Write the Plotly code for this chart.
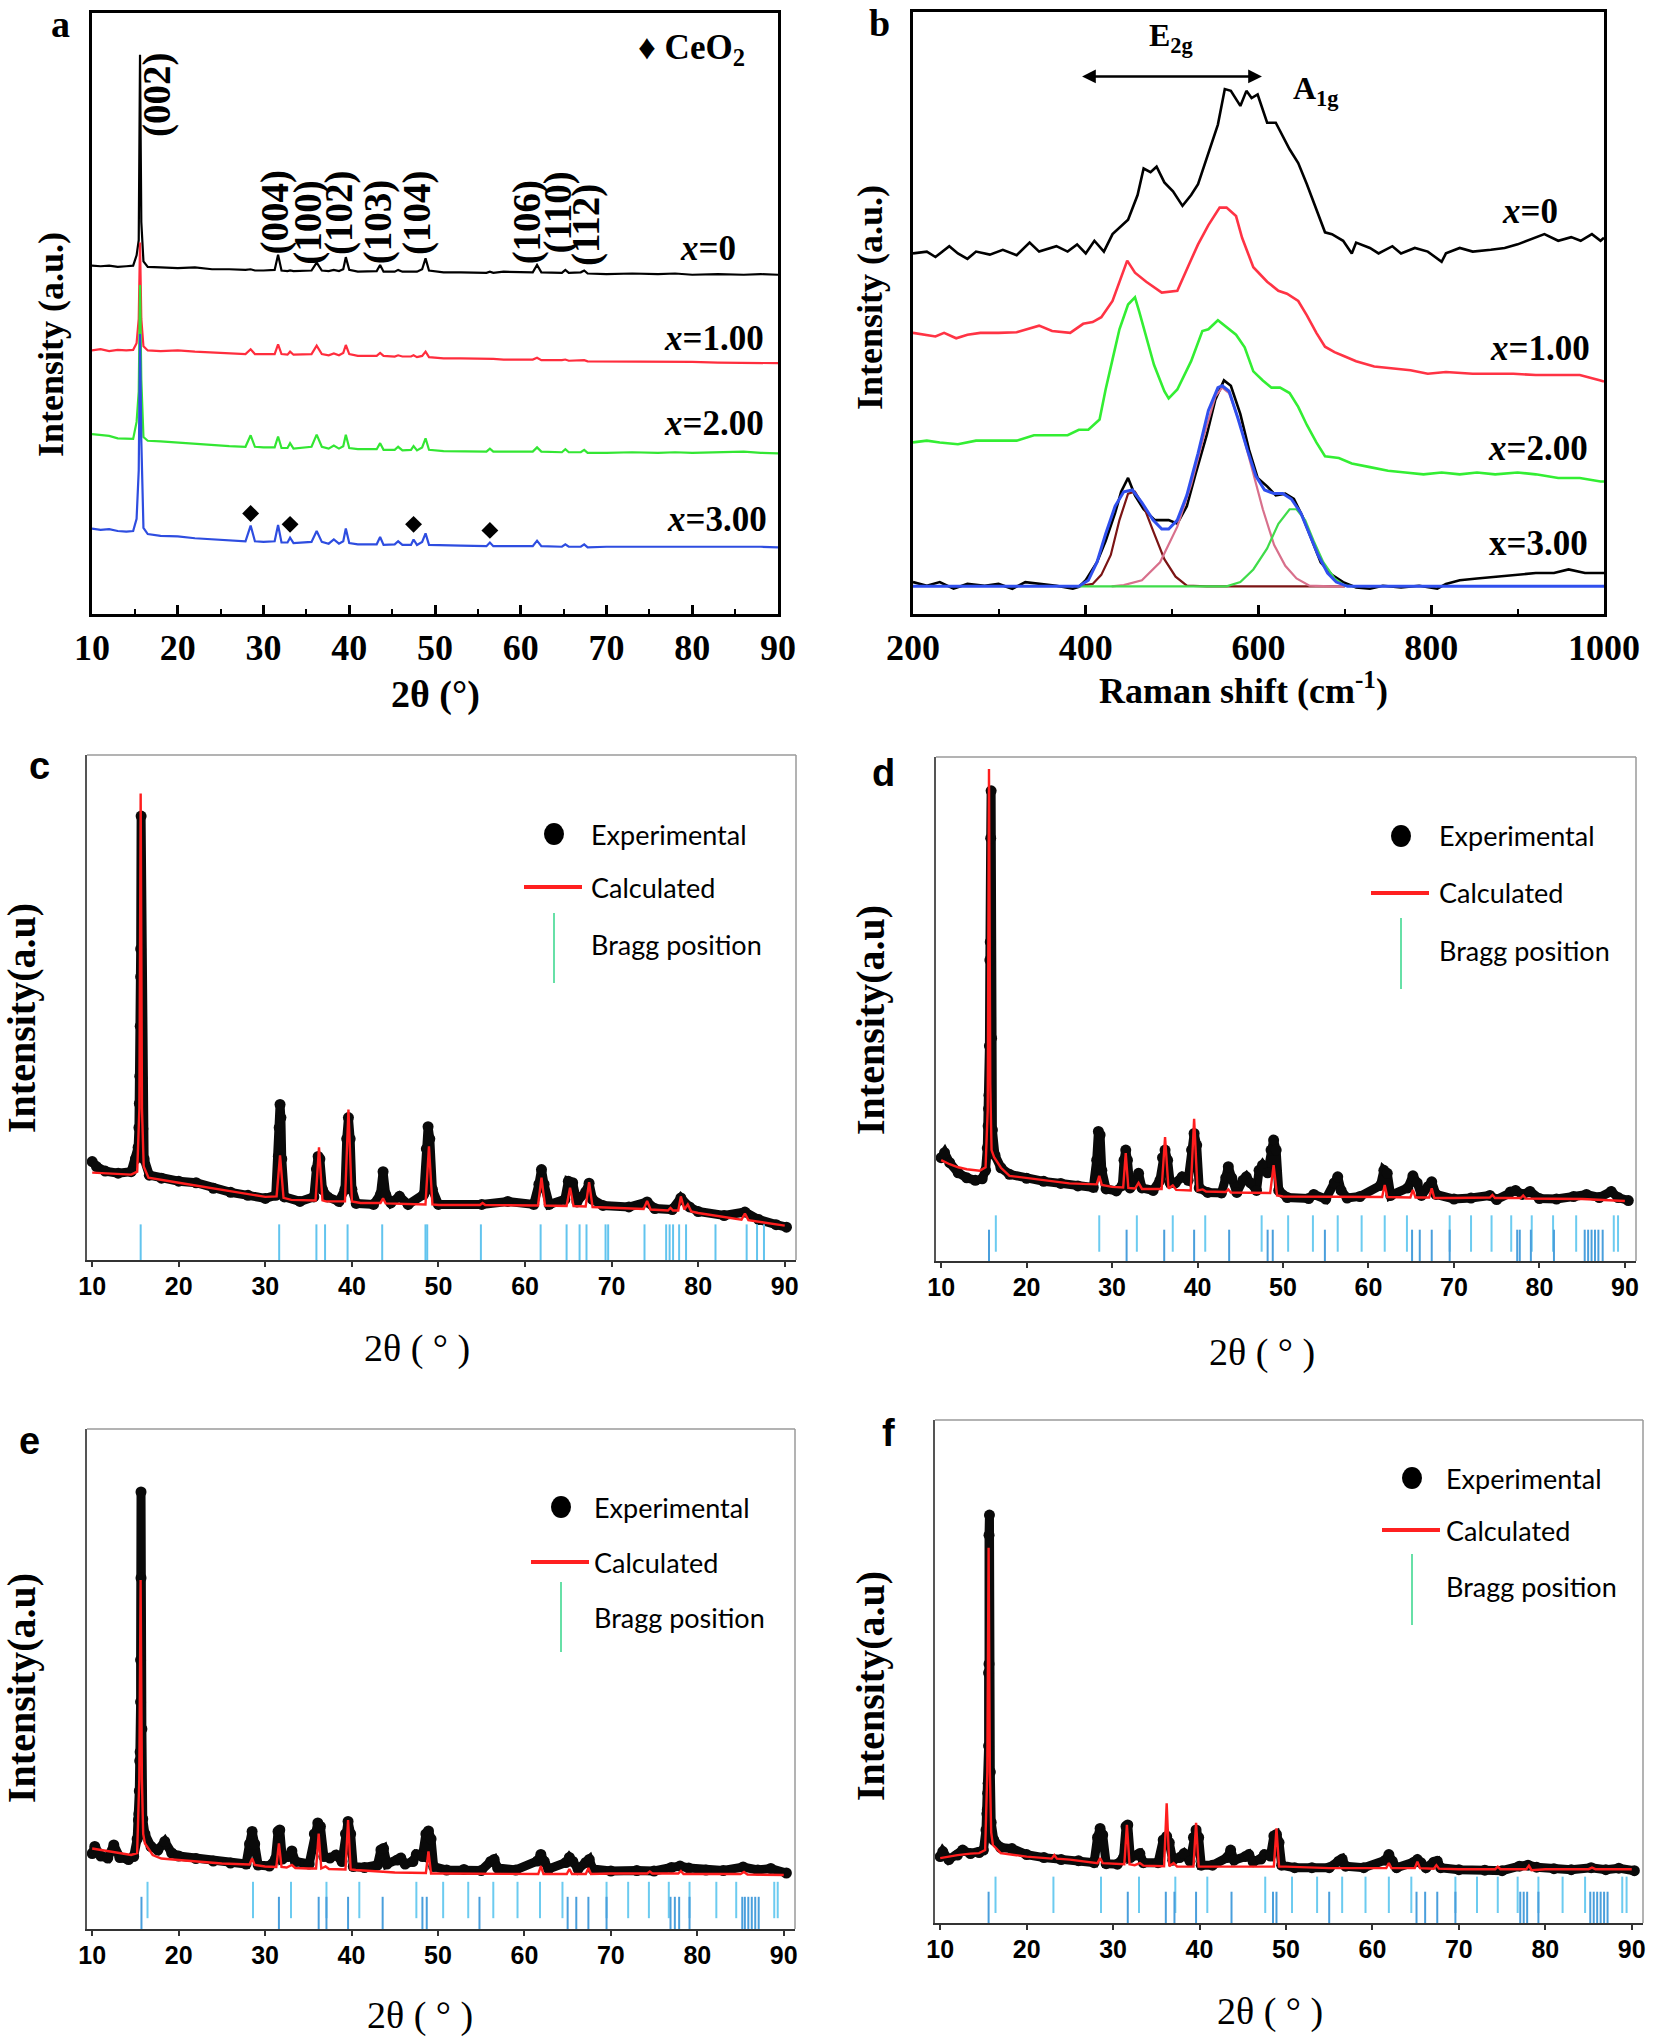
import plotly.graph_objects as go

W, H = 1654, 2043
SERIF = "Liberation Serif, Times New Roman, serif"
SANS = "Liberation Sans, Arial, sans-serif"
NARROW = "Liberation Sans Narrow, Arial Narrow, Lato, sans-serif"

# ---------------- (a) XRD, x = 0 ... 3.00 (arbitrary intensity units) ----------------
A_TT = [10, 11, 12, 13, 14, 14.8, 15.2, 15.45, 15.6, 15.75,
        16.0, 16.5, 18, 20, 22, 24, 26, 27.9, 28.5, 29.0,
        30, 31.3, 31.7, 32.1, 32.8, 33.1, 33.5, 35.6, 36.2, 36.8,
        37.6, 38.2, 38.8, 39.3, 39.6, 40.0, 41, 43.2, 43.6, 44.0,
        45.3, 45.7, 46.2, 47.2, 47.5, 47.9, 48.5, 48.9, 49.3, 51,
        53, 56.0, 56.4, 56.8, 58, 61.4, 61.9, 62.4, 64.8, 65.2,
        65.6, 67.0, 67.4, 67.8, 70, 73, 76, 78, 80, 83,
        86, 88, 90]
A_X0 = [58.8, 58.7, 58.8, 58.6, 58.7, 58.8, 60.5, 63.0, 93.6, 66.0,
        59.5, 58.6, 58.5, 58.4, 58.5, 58.2, 58.2, 58.1, 58.2, 58.0,
        58.0, 58.1, 60.6, 58.0, 57.9, 58.0, 57.9, 58.0, 59.3, 58.0,
        57.9, 58.1, 57.9, 58.2, 60.2, 58.1, 57.8, 57.9, 58.9, 57.8,
        57.8, 58.1, 57.8, 57.8, 57.9, 57.8, 58.2, 60.0, 58.0, 57.7,
        57.7, 57.6, 57.8, 57.6, 57.8, 57.7, 58.9, 57.7, 57.6, 58.1,
        57.6, 57.7, 58.0, 57.5, 57.4, 57.5, 57.4, 57.5, 57.3, 57.4,
        57.3, 57.4, 57.3]
A_X1 = [44.8, 45.0, 44.7, 44.9, 44.8, 44.9, 46.0, 50.0, 62.6, 50.0,
        45.5, 44.8, 44.7, 44.8, 44.6, 44.5, 44.3, 44.2, 45.0, 44.2,
        44.2, 44.2, 45.8, 44.2, 44.1, 44.6, 44.1, 44.2, 45.6, 44.2,
        44.0, 44.3, 44.0, 44.4, 45.7, 44.2, 43.9, 43.9, 44.4, 43.9,
        43.8, 44.0, 43.8, 43.8, 44.0, 43.7, 43.9, 44.6, 43.7, 43.5,
        43.5, 43.4, 43.5, 43.4, 43.3, 43.3, 43.6, 43.2, 43.2, 43.3,
        43.1, 43.1, 43.2, 43.0, 43.0, 43.0, 42.9, 42.9, 42.9, 42.8,
        42.8, 42.8, 42.7]
A_X2 = [31.0, 30.8, 30.7, 30.3, 30.3, 30.2, 33.0, 38.0, 55.6, 40.0,
        30.5, 29.9, 29.8, 29.6, 29.3, 29.1, 29.0, 28.9, 30.8, 28.9,
        28.8, 28.8, 30.6, 28.7, 28.7, 29.5, 28.6, 28.9, 30.9, 28.9,
        28.6, 29.1, 28.6, 29.0, 30.9, 28.7, 28.5, 28.5, 29.5, 28.4,
        28.4, 28.9, 28.3, 28.4, 29.0, 28.3, 28.8, 30.3, 28.4, 28.2,
        28.2, 28.1, 28.6, 28.1, 28.1, 28.1, 28.8, 28.1, 28.0, 28.5,
        28.0, 28.0, 28.4, 27.9, 27.9, 28.0, 27.9, 28.0, 27.9, 28.0,
        28.1, 27.9, 27.8]
A_X3 = [15.4, 15.2, 15.3, 15.0, 14.9, 15.0, 17.0, 25.0, 47.5, 30.0,
        15.5, 14.5, 14.2, 14.1, 13.8, 13.6, 13.5, 13.3, 15.9, 13.3,
        13.2, 13.3, 16.0, 13.1, 13.1, 13.9, 13.0, 13.2, 15.0, 13.2,
        12.9, 13.6, 12.9, 13.3, 15.4, 13.0, 12.8, 12.8, 14.0, 12.7,
        12.8, 13.3, 12.7, 12.7, 13.6, 12.7, 13.2, 14.6, 12.7, 12.6,
        12.6, 12.5, 13.1, 12.5, 12.5, 12.5, 13.4, 12.5, 12.4, 12.8,
        12.4, 12.4, 12.8, 12.3, 12.4, 12.4, 12.4, 12.5, 12.4, 12.5,
        12.4, 12.4, 12.3]
A_SERIES = [("<i>x</i>=0", A_X0, "#000000"), ("<i>x</i>=1.00", A_X1, "#ff2d3d"),
            ("<i>x</i>=2.00", A_X2, "#33e633"), ("<i>x</i>=3.00", A_X3, "#2e4de0")]
CEO2_TT = [28.5, 33.1, 47.5, 56.4]
CEO2_Y = [17.9, 16.1, 16.1, 15.1]
HKL = ["(002)", "(004)", "(100)", "(102)", "(103)", "(104)", "(106)", "(110)", "(112)"]
HKL_TT = [17.6, 31.3, 35.2, 38.8, 43.3, 47.9, 60.7, 64.3, 67.6]
HKL_Y = [87.0, 67.5, 65.9, 67.5, 65.9, 67.5, 65.9, 67.5, 65.5]
A_LABEL_TT = [85.3, 88.6, 88.6, 89.0]
A_LABEL_Y = [61.6, 46.7, 32.8, 16.9]

# ---------------- (b) Raman spectra ----------------
B_X0 = [(200, 59.9), (216, 60.2), (226, 59.3), (242, 61.1), (252, 59.9), (263, 59.0), (273, 60.2),
        (289, 59.7), (304, 60.5), (320, 59.6), (335, 61.7), (346, 60.2), (366, 61.1), (379, 60.2),
        (390, 61.4), (400, 59.9), (410, 62.0), (421, 60.2), (431, 63.1), (449, 65.5), (460, 69.6),
        (467, 74.0), (475, 73.4), (482, 74.3), (491, 71.7), (501, 70.2), (512, 67.8), (522, 69.6),
        (530, 71.4), (542, 76.6), (553, 81.3), (561, 87.2), (568, 86.9), (579, 84.4), (586, 86.9),
        (592, 85.7), (599, 86.3), (610, 81.6), (620, 81.6), (636, 77.2), (646, 74.9), (656, 71.4),
        (667, 67.2), (677, 63.4), (685, 63.1), (698, 62.0), (708, 59.9), (713, 61.7), (729, 60.8),
        (739, 59.9), (755, 61.1), (765, 59.9), (781, 60.8), (796, 60.2), (812, 58.5), (817, 59.9),
        (833, 60.8), (848, 60.2), (869, 60.5), (885, 60.8), (900, 61.4), (916, 62.3), (931, 63.1),
        (947, 62.0), (962, 62.6), (973, 62.0), (986, 63.1), (996, 62.0), (1000, 62.5)]
B_X1 = [(200, 46.7), (216, 46.4), (226, 46.1), (236, 46.7), (250, 45.8), (263, 46.4), (278, 46.7),
        (299, 46.7), (320, 46.8), (346, 47.9), (361, 47.0), (382, 46.7), (397, 48.2), (408, 48.5),
        (418, 49.3), (431, 52.0), (440, 55.5), (448, 58.7), (457, 56.7), (470, 55.2), (488, 53.4),
        (506, 53.7), (519, 57.9), (530, 61.4), (542, 64.6), (555, 67.5), (563, 67.5), (574, 66.1),
        (581, 62.5), (594, 57.6), (610, 55.2), (623, 53.7), (633, 53.2), (646, 52.0), (656, 49.6),
        (667, 46.7), (677, 44.4), (688, 43.5), (698, 42.9), (713, 42.0), (734, 41.1), (755, 40.8),
        (776, 40.5), (796, 39.9), (817, 40.2), (848, 39.9), (869, 39.9), (895, 39.9), (921, 39.7),
        (947, 39.7), (972, 39.7), (996, 38.8), (1000, 38.6)]
B_X2 = [(200, 28.5), (216, 28.8), (231, 28.5), (252, 28.2), (273, 28.8), (299, 28.8), (320, 28.8),
        (340, 29.7), (361, 29.7), (379, 29.7), (392, 30.6), (403, 30.6), (416, 32.3), (423, 37.3),
        (431, 42.3), (439, 47.3), (449, 51.4), (457, 52.6), (462, 50.2), (470, 46.1), (479, 41.4),
        (491, 37.0), (496, 35.8), (506, 37.3), (522, 42.0), (535, 47.0), (542, 47.3), (553, 48.8),
        (563, 47.6), (574, 46.4), (584, 44.3), (594, 40.3), (605, 38.8), (615, 37.6), (625, 37.6),
        (636, 36.7), (646, 34.4), (656, 31.4), (667, 28.5), (677, 26.2), (693, 25.9), (708, 25.0),
        (729, 24.4), (750, 23.8), (770, 23.5), (791, 23.2), (812, 23.5), (833, 23.2), (853, 23.5),
        (874, 23.2), (900, 23.5), (921, 23.2), (947, 22.6), (972, 22.6), (996, 22.0), (1000, 22.0)]
B_X3 = [(200, 5.3), (216, 4.7), (231, 5.3), (247, 4.2), (263, 5.0), (283, 4.7), (299, 5.0),
        (315, 4.2), (330, 5.3), (346, 5.0), (366, 4.7), (385, 4.2), (392, 4.5), (400, 5.6),
        (413, 8.6), (423, 12.1), (434, 16.8), (441, 20.3), (449, 22.6), (457, 19.7), (467, 17.4),
        (480, 15.6), (496, 15.6), (506, 15.0), (517, 17.9), (527, 23.2), (540, 29.7), (550, 35.6),
        (560, 38.8), (568, 37.9), (579, 33.2), (589, 27.3), (599, 22.6), (610, 21.2), (620, 19.7),
        (631, 20.0), (641, 19.1), (651, 16.2), (662, 12.1), (672, 8.6), (685, 6.5), (698, 5.3),
        (713, 4.4), (729, 4.2), (744, 4.7), (765, 4.4), (786, 4.7), (807, 4.2), (817, 5.0),
        (833, 5.6), (853, 5.9), (874, 6.2), (900, 6.5), (921, 6.8), (942, 6.8), (959, 7.4),
        (978, 6.8), (996, 6.8), (1000, 6.8)]
B_FIT_1 = [(392, 4.6), (408, 5.0), (418, 6.5), (429, 9.8), (439, 15.6), (449, 20.0), (457, 20.3),
           (467, 17.9), (478, 13.8), (491, 9.1), (504, 6.2), (517, 4.7), (540, 4.6), (700, 4.6)]
B_FIT_2 = [(430, 4.6), (444, 4.8), (465, 5.6), (486, 8.6), (506, 14.5), (522, 21.5), (537, 29.7),
           (550, 36.1), (558, 37.6), (566, 36.7), (579, 31.4), (592, 24.4), (605, 17.4), (618, 11.5),
           (631, 8.0), (644, 5.9), (659, 4.7), (683, 4.6), (700, 4.6)]
B_FIT_3 = [(390, 4.6), (563, 4.6), (579, 5.3), (594, 7.4), (610, 10.9), (623, 15.0), (636, 17.4),
           (644, 17.4), (654, 15.6), (664, 12.1), (675, 8.6), (688, 5.9), (700, 4.7), (713, 4.6)]
B_ENVELOPE = [(200, 4.6), (392, 4.6), (403, 5.6), (413, 8.6), (423, 13.3), (434, 17.9), (444, 20.3),
              (454, 20.6), (465, 18.5), (478, 15.6), (488, 14.1), (496, 14.1), (506, 15.6), (517, 19.7),
              (530, 26.7), (542, 33.8), (553, 37.6), (558, 37.9), (566, 37.0), (576, 32.6), (587, 27.3),
              (597, 22.9), (607, 20.6), (618, 20.0), (628, 20.0), (638, 19.1), (649, 16.8), (659, 13.3),
              (669, 9.8), (680, 6.8), (690, 5.3), (703, 4.6), (1000, 4.6)]
B_LABELS = ["<i>x</i>=0", "<i>x</i>=1.00", "<i>x</i>=2.00", "x=3.00"]
B_LABEL_X = [949, 986, 984, 984]
B_LABEL_Y = [66.8, 44.1, 27.5, 11.7]

# ---------------- (c)-(f) Rietveld refinements ----------------
C_EXP = [(10.0, 19.5), (10.5, 18.5), (11.5, 17.6), (13, 17.2), (14.5, 17.5), (15.0, 20), (15.3, 22.3),
         (15.4, 26.2), (15.45, 31.0), (15.5, 36.4), (15.55, 46.3), (15.6, 56.1), (15.6, 61.6),
         (15.65, 87.9), (15.75, 36), (15.85, 26), (16.0, 20), (16.6, 16.8), (18, 16.2), (20, 15.6),
         (22, 15.3), (24, 14.2), (26, 13.4), (28, 12.8), (30, 12.2), (31.2, 12.8), (31.5, 20.5),
         (31.6, 26.2), (31.7, 30.8), (31.8, 28.2), (31.9, 20), (32.2, 12.5), (34, 11.6), (35.6, 12.5),
         (35.9, 18), (36.1, 20.5), (36.3, 20), (36.6, 14), (37.2, 12.5), (38.5, 11.6), (39.2, 14),
         (39.4, 24), (39.6, 28.2), (39.8, 24), (40.0, 14), (40.5, 11.2), (42.5, 11.0), (43.3, 13),
         (43.6, 17.5), (43.9, 13), (44.5, 11.3), (45.5, 12.6), (46.5, 11), (48.3, 13), (48.6, 22),
         (48.8, 26.4), (49.0, 24), (49.3, 14), (50, 11), (55, 11), (58, 11.6), (61, 11), (61.6, 15),
         (61.9, 17.9), (62.2, 15), (62.8, 11), (64.6, 12), (65.0, 15.6), (65.5, 15.3), (66, 11.5),
         (67.0, 13.5), (67.4, 15.2), (67.8, 12), (69, 10.8), (72, 10.5), (74.1, 11.5), (75, 10.2),
         (77, 10), (78, 12.3), (79, 10.5), (80, 9.6), (83, 8.8), (85.4, 9.5), (87, 8), (89, 7), (90.2, 6.5)]
C_CALC = [(10, 17.3), (12, 17.1), (14.5, 16.9), (15.2, 17.5), (15.45, 30), (15.6, 92.4), (15.75, 30),
          (15.95, 18.5), (16.5, 16.3), (20, 15.3), (25, 13.9), (30, 12.5), (31.3, 12.6), (31.7, 20.7),
          (32.1, 12.3), (33, 11.9), (35.8, 11.8), (36.2, 22.3), (36.6, 11.8), (37, 11.6), (39.2, 11.6),
          (39.6, 29.8), (40.0, 11.6), (41, 11.3), (43.3, 11.3), (43.6, 12.2), (43.9, 11.2), (48.5, 11),
          (48.9, 22.5), (49.3, 11), (50, 10.9), (54.8, 10.9), (55.1, 11.3), (55.4, 10.9), (61.5, 10.8),
          (61.9, 16.3), (62.3, 10.8), (64.8, 10.7), (65.2, 14.3), (65.6, 10.7), (67.0, 10.6),
          (67.4, 15.4), (67.8, 10.5), (70, 10.3), (73.7, 10.1), (74.1, 11.7), (74.5, 10.0), (76.5, 9.8),
          (76.8, 10.3), (77.1, 9.8), (77.7, 9.8), (78.0, 12.6), (78.4, 10.0), (78.8, 11.0), (79.2, 9.6),
          (80, 9.3), (85, 8.0), (85.4, 9.2), (85.8, 7.9), (90, 6.8)]
C_BRAGG = [15.6, 31.6, 35.9, 36.9, 39.5, 43.5, 48.5, 48.7, 54.9, 61.8, 64.8, 66.3, 67.1, 69.3,
           69.6, 73.8, 76.3, 76.7, 77.1, 77.8, 78.6, 82.0, 85.6, 86.8, 87.6]

D_EXP = [(10.0, 20.5), (10.4, 21.5), (11, 19.5), (12, 17.5), (13, 16.5), (14, 16.0), (14.8, 16.3),
         (15.2, 18), (15.4, 22.4), (15.5, 26.8), (15.55, 30.2), (15.6, 32.9), (15.65, 42.7),
         (15.7, 59.7), (15.75, 63.3), (15.8, 83.9), (15.85, 93.3), (15.9, 44.2), (16.0, 26),
         (16.3, 21), (17, 18.5), (18, 17.2), (20, 16.4), (22, 15.8), (24, 15.4), (26, 14.9),
         (27.8, 14.6), (28.2, 20), (28.4, 25.7), (28.6, 25), (28.8, 18), (29.3, 14.3), (30.5, 13.9),
         (31.2, 15), (31.4, 20), (31.6, 22), (31.8, 20), (32.1, 14.5), (32.8, 16), (33.1, 17.4),
         (33.5, 14.5), (34.8, 14), (35.6, 16), (35.9, 20.5), (36.2, 22), (36.5, 20), (36.8, 15.5),
         (37.4, 15.5), (38.2, 16.7), (38.9, 16), (39.3, 22), (39.6, 25.3), (39.9, 23), (40.2, 14.5),
         (41.2, 13.6), (42.8, 13.5), (43.3, 16.5), (43.6, 18.7), (44.0, 16.5), (44.6, 13.6),
         (45.3, 16), (45.7, 16.7), (46.2, 15.5), (46.9, 14), (47.2, 18), (47.6, 19), (48.2, 17.5),
         (48.6, 22), (48.9, 24), (49.2, 22), (49.5, 14), (50.5, 12.6), (53, 12.4), (53.6, 13.2),
         (55, 12.3), (56.0, 15.5), (56.4, 16.7), (56.8, 14), (57.5, 12.5), (59, 12.8), (61.4, 15),
         (61.8, 18), (62.2, 17.4), (62.6, 13), (64.6, 14.5), (65.2, 16.9), (65.7, 15.5), (66.2, 13),
         (67.0, 14.8), (67.4, 15.7), (67.9, 13.2), (70, 12.3), (72, 12.5), (74.2, 13), (75, 12.2),
         (76.6, 13.7), (77.2, 14), (78, 13.2), (78.9, 13.8), (80, 12.4), (82, 12.3), (84, 12.8),
         (85.5, 13.2), (87, 12.6), (88.4, 13.8), (89.2, 12.6), (90.4, 12.0)]
D_CALC = [(10, 20.0), (11, 19.2), (12, 18.6), (13, 18.2), (14.5, 17.9), (15.2, 18.6), (15.45, 30),
          (15.6, 97.6), (15.75, 35), (15.9, 22), (16.2, 20.6), (17, 18.5), (18, 16.9), (20, 16.5),
          (22, 16), (25, 15.4), (28.2, 15.2), (28.5, 16.9), (28.8, 15.1), (30, 14.7), (31.3, 14.6),
          (31.6, 21.4), (31.9, 14.5), (32.7, 14.4), (33.1, 15.5), (33.5, 14.3), (35.8, 14.3),
          (36.2, 24.6), (36.6, 14.4), (37.1, 15.0), (37.5, 14.1), (39.2, 14.0), (39.6, 28.2),
          (40.0, 14.0), (40.6, 14.2), (41, 13.8), (43.3, 13.7), (43.6, 14.2), (43.9, 13.6), (45, 13.6),
          (48.5, 13.5), (48.9, 19.0), (49.3, 13.0), (50, 12.8), (55, 12.7), (60, 12.7), (61.6, 12.7),
          (61.9, 15.1), (62.2, 12.7), (64.9, 12.6), (65.2, 14.1), (65.5, 12.6), (67.1, 12.6),
          (67.4, 14.4), (67.7, 12.5), (70, 12.5), (74.2, 12.6), (74.5, 13.1), (74.8, 12.5),
          (77.8, 12.5), (78.1, 13.0), (78.4, 12.4), (80, 12.4), (85, 12.3), (90, 11.9)]
D_BRAGG_UP = [16.4, 28.5, 32.9, 37.1, 40.9, 47.5, 50.6, 53.5, 56.4, 59.2, 61.9, 64.5, 69.5, 72.0,
              74.4, 76.7, 79.1, 81.6, 84.3, 88.7, 89.2]
D_BRAGG_LO = [15.6, 31.7, 36.1, 39.6, 43.7, 48.2, 48.8, 54.9, 65.1, 66.0, 67.4, 69.5, 77.4, 77.7,
              79.0, 81.7, 85.3, 85.7, 86.1, 86.5, 86.9, 87.4]

E_EXP = [(10, 15.1), (10.3, 16.5), (11, 14.6), (11.8, 14.2), (12.5, 16.8), (13.2, 14.3), (14.2, 13.9),
         (14.8, 14.5), (15.2, 18), (15.35, 21.8), (15.4, 23.0), (15.45, 27.6), (15.5, 33.6),
         (15.55, 35.4), (15.6, 45.4), (15.6, 53.8), (15.65, 70.2), (15.65, 87.4), (15.75, 40),
         (15.85, 22), (16.1, 19), (16.8, 16.5), (17.6, 15.8), (18.4, 17.5), (19.2, 15.2), (20, 14.6),
         (22, 14.1), (24, 13.6), (26, 13.2), (27.8, 13), (28.2, 17), (28.5, 19.5), (28.8, 17),
         (29.2, 12.8), (30.5, 12.6), (31.2, 14), (31.5, 19.5), (31.7, 19.8), (32.0, 14), (32.7, 14.5),
         (33.1, 15.6), (33.5, 13.5), (35.1, 13), (35.7, 19), (36.1, 21.2), (36.4, 20.5), (36.8, 14.5),
         (37.5, 14.2), (38.2, 14.8), (38.9, 13.5), (39.3, 19), (39.6, 21.5), (39.9, 19), (40.2, 12.5),
         (41.5, 12.3), (43.0, 12.8), (43.4, 15.8), (43.7, 16.1), (44.1, 13), (45.3, 13.8), (45.7, 14.2),
         (46.2, 13), (47.1, 13.5), (47.5, 14.9), (48.2, 14.5), (48.6, 19), (48.9, 19.6), (49.2, 18),
         (49.5, 12.5), (51, 11.8), (53, 11.9), (55, 11.7), (56.1, 13.5), (56.5, 13.9), (56.9, 12.2),
         (59, 11.8), (61.5, 13.6), (61.9, 14.9), (62.3, 13.5), (62.8, 12), (64.8, 13.3), (65.2, 14.3),
         (65.6, 13.5), (66.2, 12), (67.1, 13.3), (67.5, 13.9), (67.9, 12), (70, 11.6), (73, 11.7),
         (75, 11.6), (77, 12.3), (78, 12.6), (79, 12.2), (81, 11.8), (83, 11.7), (85.3, 12.4),
         (87, 11.8), (88.5, 12.1), (90.3, 11.2)]
E_CALC = [(10, 16.1), (11, 15.8), (12, 15.5), (13, 15.2), (14.5, 14.8), (15.2, 15.2), (15.45, 30),
          (15.6, 69.8), (15.75, 30), (15.9, 19), (16.1, 17.1), (17, 14.8), (18, 14.1), (20, 13.8),
          (25, 13.1), (28.2, 12.9), (28.5, 14.1), (28.8, 12.8), (30, 12.5), (31.3, 12.4), (31.6, 17.1),
          (31.9, 12.4), (32.5, 12.3), (33.1, 12.8), (33.5, 12.2), (35, 12.1), (35.9, 12.1), (36.2, 19.1),
          (36.5, 12.1), (37.0, 12.5), (37.4, 12.0), (39.3, 11.9), (39.6, 21.8), (39.9, 11.9),
          (40.5, 11.8), (45, 11.3), (48.6, 11.2), (48.9, 15.5), (49.2, 11.1), (50, 11.1), (60, 11.0),
          (61.6, 11.0), (61.9, 12.6), (62.2, 11.0), (64.9, 11.0), (65.2, 12.0), (65.5, 11.0),
          (67.1, 11.0), (67.4, 12.2), (67.7, 11.0), (70, 11.1), (74.2, 11.1), (74.5, 11.5), (74.8, 11.1),
          (77.8, 11.1), (78.1, 11.6), (78.4, 11.0), (80, 11.0), (85, 11.0), (85.4, 11.4), (85.8, 10.9),
          (90, 10.8)]
E_BRAGG_UP = [16.4, 28.6, 33.0, 37.1, 40.9, 47.5, 50.6, 53.5, 56.4, 59.2, 61.8, 64.4, 69.5, 72.0,
              74.4, 76.7, 79.1, 82.2, 84.5, 88.9, 89.3]
E_BRAGG_LO = [15.7, 31.6, 36.2, 37.1, 39.6, 43.6, 48.2, 48.7, 54.8, 65.0, 66.0, 67.4, 69.5, 76.9,
              77.4, 77.9, 79.1, 85.2, 85.5, 85.9, 86.3, 86.7, 87.1]

F_EXP = [(10, 13.2), (10.3, 14.2), (11, 12.6), (12.0, 13.5), (12.6, 14.5), (13.5, 13.8), (14.5, 14),
         (15.0, 14.5), (15.3, 18.5), (15.4, 21.7), (15.45, 22.5), (15.5, 25.8), (15.55, 27.8),
         (15.6, 35.2), (15.6, 49.7), (15.65, 51.5), (15.65, 77.1), (15.7, 81.1), (15.8, 30), (15.9, 20),
         (16.2, 16.5), (17, 15), (18.3, 14.8), (20, 13.6), (22, 13), (24, 12.6), (26, 12.4), (27.8, 12),
         (28.2, 17), (28.5, 18.8), (28.8, 17.5), (29.2, 11.8), (30.5, 11.7), (31.2, 13), (31.5, 19.2),
         (31.7, 19.5), (32.0, 13), (32.8, 13.5), (33.1, 13.8), (33.5, 12), (35.2, 12), (35.8, 16.5),
         (36.2, 17.2), (36.5, 16), (36.9, 12.5), (37.7, 13), (38.2, 13.8), (38.9, 12.3), (39.3, 17),
         (39.6, 18.5), (39.9, 17), (40.2, 11.5), (41.5, 11.5), (43.2, 13), (43.6, 14.5), (44.0, 12.5),
         (45.3, 13.2), (45.7, 13.6), (46.2, 12.2), (47.1, 12.7), (47.5, 13.6), (48.2, 13.3),
         (48.6, 17.3), (48.9, 17.6), (49.2, 16), (49.5, 11.5), (51, 11), (53, 11), (55, 11),
         (56.1, 12.3), (56.5, 12.7), (56.9, 11.3), (59, 11), (61.5, 12.5), (61.9, 13.6), (62.3, 12.3),
         (62.8, 11), (64.8, 12.1), (65.2, 12.6), (65.6, 12), (66.2, 11), (67.1, 12.1), (67.5, 12.3),
         (67.9, 11), (70, 10.6), (73, 10.5), (75, 10.4), (77, 11.3), (78, 11.5), (79, 11.1), (81, 10.8),
         (83, 10.6), (85.3, 11), (87, 10.6), (88.5, 10.9), (90.3, 10.4)]
F_CALC = [(10, 12.9), (11, 13.2), (12, 13.5), (13.5, 13.8), (14.5, 13.9), (15.2, 14.5), (15.45, 30),
          (15.6, 74.6), (15.75, 30), (15.9, 18), (16.1, 15.5), (17, 13.9), (20, 13.2), (22.9, 12.8),
          (23.2, 13.5), (23.5, 12.8), (25, 12.6), (28.2, 11.9), (28.5, 12.9), (28.8, 11.9), (30, 11.8),
          (31.3, 11.7), (31.6, 19.5), (31.9, 11.7), (32.5, 11.5), (33.1, 11.9), (33.5, 11.4), (35, 11.3),
          (35.9, 11.3), (36.2, 23.8), (36.5, 11.3), (37.0, 11.9), (37.4, 11.2), (39.3, 11.2),
          (39.6, 19.9), (39.9, 11.2), (40.5, 11.2), (45, 11.2), (48.6, 11.2), (48.9, 18.8), (49.2, 11.2),
          (50, 11.2), (55, 10.9), (61.6, 10.9), (61.9, 11.9), (62.2, 10.9), (64.9, 10.9), (65.2, 12.2),
          (65.5, 10.9), (67.1, 10.8), (67.4, 11.5), (67.7, 10.8), (70, 10.7), (74.2, 10.7), (74.5, 11.2),
          (74.8, 10.7), (77.8, 10.7), (78.1, 11.4), (78.4, 10.5), (80, 10.7), (85, 10.7), (85.4, 11.0),
          (85.8, 10.7), (90, 10.7)]
F_BRAGG_UP = [16.4, 23.1, 28.6, 33.0, 37.2, 40.9, 47.6, 50.7, 53.6, 56.5, 59.2, 61.9, 64.5, 69.6,
              72.1, 74.5, 76.8, 79.2, 82.0, 84.6, 88.9, 89.4]
F_BRAGG_LO = [15.6, 31.7, 36.1, 37.1, 39.6, 43.7, 48.5, 48.9, 55.0, 65.1, 66.1, 67.5, 69.6, 77.1,
              77.5, 77.9, 79.2, 85.2, 85.6, 86.0, 86.4, 86.8, 87.2]

# ---------------- layout (pixel boxes of the six frames: left, right, top, bottom) ----------------
BOX = {"": (92, 778, 13, 614), "2": (913, 1604, 12, 614),
       "3": (87, 796, 755, 1260), "4": (936, 1636, 757, 1261),
       "5": (87, 795, 1429, 1929), "6": (935, 1643, 1420, 1923)}
Y_RANGE = {"": [1.3, 100.5]}


def pxx(x):
    return x / W


def pxy(y):
    return 1 - y / H


fig = go.Figure()


def line(x, y, ax, color, width, **kw):
    fig.add_trace(go.Scatter(x=list(x), y=list(y), xaxis="x" + ax, yaxis="y" + ax, mode="lines",
                             line=dict(color=color, width=width), showlegend=False,
                             hoverinfo="skip", **kw))


# (a)
for lab, ys, col in A_SERIES:
    line(A_TT, ys, "", col, 2.2)
fig.add_trace(go.Scatter(x=CEO2_TT, y=CEO2_Y, mode="markers", xaxis="x", yaxis="y",
                         marker=dict(symbol="diamond", size=13, color="black"),
                         showlegend=False, hoverinfo="skip"))

# (b)
for pts, col in [(B_X0, "#000000"), (B_X1, "#ff3344"), (B_X2, "#33ee33"), (B_X3, "#000000")]:
    line(*zip(*pts), "2", col, 2.6)
line(*zip(*B_FIT_1), "2", "#7b1414", 2.2)
line(*zip(*B_FIT_2), "2", "#d8708c", 2.2)
line(*zip(*B_FIT_3), "2", "#3fdc4a", 2.2)
line(*zip(*B_ENVELOPE), "2", "#3050ee", 3)

# (c)-(f)
RIET = [("3", C_EXP, C_CALC, [(C_BRAGG, 3.45, "#62c4ee")]),
        ("4", D_EXP, D_CALC, [(D_BRAGG_UP, 5.45, "#6ccbf0"), (D_BRAGG_LO, 2.6, "#4a9fdc")]),
        ("5", E_EXP, E_CALC, [(E_BRAGG_UP, 5.8, "#6ccbf0"), (E_BRAGG_LO, 2.8, "#4a9fdc")]),
        ("6", F_EXP, F_CALC, [(F_BRAGG_UP, 5.6, "#6ccbf0"), (F_BRAGG_LO, 2.6, "#4a9fdc")])]
for ax, exp, calc, rows in RIET:
    ex, ey = zip(*exp)
    fig.add_trace(go.Scatter(x=ex, y=ey, xaxis="x" + ax, yaxis="y" + ax, mode="lines+markers",
                             line=dict(color="#0a0a0a", width=9),
                             marker=dict(size=11, color="#0a0a0a"),
                             showlegend=False, hoverinfo="skip"))
    line(*zip(*calc), ax, "#ff1e1e", 2.4)
    for pos, yc, col in rows:
        fig.add_trace(go.Scatter(x=pos, y=[yc] * len(pos), xaxis="x" + ax, yaxis="y" + ax,
                                 mode="markers",
                                 marker=dict(symbol="line-ns", size=26,
                                             line=dict(width=2, color=col)),
                                 showlegend=False, hoverinfo="skip"))

layout = dict(width=W, height=H, margin=dict(l=0, r=0, t=0, b=0, pad=0, autoexpand=False),
              paper_bgcolor="white", plot_bgcolor="white", showlegend=False)

for ax, (l, r, t, b) in BOX.items():
    xd = [pxx(l), pxx(r)]
    yd = [pxy(b), pxy(t)]
    if ax in ("", "2"):
        xr = [10, 90] if ax == "" else [200, 1000]
        step = 10 if ax == "" else 200
        layout["xaxis" + ax] = dict(
            domain=xd, range=xr, anchor="y" + ax, tick0=xr[0], dtick=step, automargin=False,
            ticks="inside", ticklen=9, tickwidth=2.5, tickcolor="black",
            minor=dict(tick0=xr[0], dtick=step / 2, ticks="inside", ticklen=5, tickwidth=2,
                       tickcolor="black"),
            showline=True, linewidth=3, linecolor="black", mirror=True,
            showgrid=False, zeroline=False, ticklabelstandoff=0,
            tickfont=dict(family=SERIF, size=36, color="black", weight="bold"))
        layout["yaxis" + ax] = dict(
            domain=yd, range=Y_RANGE.get(ax, [0, 100]), anchor="x" + ax, showticklabels=False,
            ticks="", automargin=False, showline=True, linewidth=3, linecolor="black",
            mirror=True, showgrid=False, zeroline=False)
    else:
        layout["xaxis" + ax] = dict(
            domain=xd, range=[9.4, 91.3], anchor="y" + ax, tick0=10, dtick=10, automargin=False,
            ticks="outside", ticklen=5, tickwidth=1.5, tickcolor="#333",
            showline=True, linewidth=1.5, linecolor="#333", mirror=False,
            showgrid=False, zeroline=False, ticklabelstandoff=-2,
            tickfont=dict(family=SANS, size=25, color="black", weight="bold"))
        layout["yaxis" + ax] = dict(
            domain=yd, range=[0, 100], anchor="x" + ax, showticklabels=False, ticks="",
            automargin=False, showline=True, linewidth=1.5, linecolor="#555", mirror=False,
            showgrid=False, zeroline=False)

fig.update_layout(**layout)

# light grey top and right edges of the Rietveld frames
for ax in ("3", "4", "5", "6"):
    fig.add_shape(type="line", xref="x%s domain" % ax, yref="y%s domain" % ax,
                  x0=0, x1=1, y0=1, y1=1, line=dict(color="#9a9a9a", width=1.5))
    fig.add_shape(type="line", xref="x%s domain" % ax, yref="y%s domain" % ax,
                  x0=1, x1=1, y0=0, y1=1, line=dict(color="#9a9a9a", width=1.5))


def note(text, x, y, size, family=SERIF, bold=True, angle=0, xanchor="center", **kw):
    fig.add_annotation(text=text, x=x, y=y, showarrow=False, textangle=angle,
                       xanchor=xanchor, yanchor="middle",
                       font=dict(family=family, size=size, color="black",
                                 weight="bold" if bold else "normal"), **kw)


def pnote(text, px, py, size, **kw):
    note(text, pxx(px), pxy(py), size, xref="paper", yref="paper", **kw)


# panel letters
for lab, lx, ly, fam in [("a", 60, 24, SERIF), ("b", 879, 23, SERIF), ("c", 39, 766, SANS),
                         ("d", 883, 773, SANS), ("e", 29, 1441, SANS), ("f", 888, 1433, SANS)]:
    pnote(lab, lx, ly, 38, family=fam)

# axis titles
pnote("2θ (°)", 436, 694, 38)
pnote("Intensity (a.u.)", 51, 345, 36, angle=-90)
pnote("Raman shift (cm<sup>-1</sup>)", 1243, 688, 36)
pnote("Intensity (a.u.)", 870, 298, 36, angle=-90)
for tx, ty, yx, yy in [(417, 1348, 21, 1018), (1262, 1352, 870, 1020),
                       (420, 2015, 21, 1688), (1270, 2011, 870, 1686)]:
    pnote("2θ ( ° )", tx, ty, 38, bold=False)
    pnote("Intensity(a.u)", yx, yy, 40, angle=-90)

# (a) annotations
for txt, x, y in zip(HKL, HKL_TT, HKL_Y):
    note(txt, x, y, 39, angle=-90, xref="x", yref="y")
for (lab, _, _), x, y in zip(A_SERIES, A_LABEL_TT, A_LABEL_Y):
    note(lab, x, y, 35, xanchor="right", xref="x", yref="y")
note("♦ CeO<sub>2</sub>", 73.4, 94.4, 35, xanchor="left", xref="x", yref="y")

# (b) annotations
for lab, x, y in zip(B_LABELS, B_LABEL_X, B_LABEL_Y):
    note(lab, x, y, 35, xanchor="right", xref="x2", yref="y2")
note("E<sub>2g</sub>", 471, 95.7, 32, xanchor="left", xref="x2", yref="y2")
note("A<sub>1g</sub>", 638, 87.0, 32, xanchor="left", xref="x2", yref="y2")
fig.add_annotation(x=604, y=89.3, ax=394, ay=89.3, xref="x2", yref="y2", axref="x2", ayref="y2",
                   text="", showarrow=True, arrowhead=2, arrowside="end+start", arrowsize=1.1,
                   arrowwidth=2.5, arrowcolor="black")

# hand-drawn legends of the Rietveld panels: (symbol x, text x, row y's, bragg line span)
LEGENDS = [(554, 589, (834, 887, 944), (913, 983)),
           (1401, 1437, (836, 893, 950), (918, 989)),
           (561, 592, (1507, 1562, 1617), (1582, 1652)),
           (1412, 1444, (1478, 1530, 1586), (1554, 1625))]
for sx, tx, (y1, y2, y3), (b0, b1) in LEGENDS:
    fig.add_shape(type="circle", xref="paper", yref="paper", x0=pxx(sx - 10), x1=pxx(sx + 10),
                  y0=pxy(y1 + 11), y1=pxy(y1 - 11), fillcolor="black", line=dict(width=0))
    fig.add_shape(type="line", xref="paper", yref="paper", x0=pxx(sx - 30), x1=pxx(sx + 28),
                  y0=pxy(y2), y1=pxy(y2), line=dict(color="#ff2020", width=4))
    fig.add_shape(type="line", xref="paper", yref="paper", x0=pxx(sx), x1=pxx(sx),
                  y0=pxy(b1), y1=pxy(b0), line=dict(color="#34d68a", width=1.5))
    for txt, yy in [("Experimental", y1), ("Calculated", y2), ("Bragg position", y3)]:
        pnote(txt, tx, yy, 27, family=NARROW, bold=False, xanchor="left")

# the page's default 8px body margin would push the figure off the 1654x2043 window
fig.write_html("out.html", config={"displayModeBar": False},
               post_script="document.body.style.margin='0';")
